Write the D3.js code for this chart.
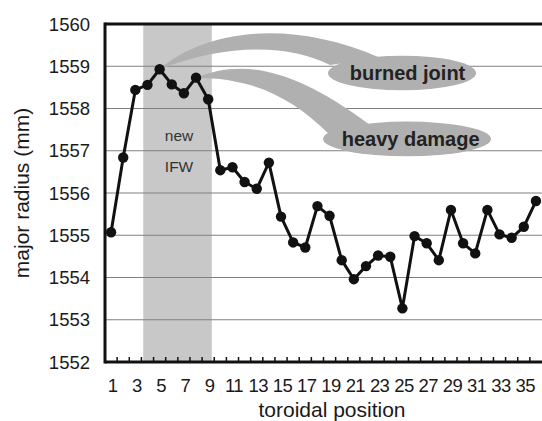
<!DOCTYPE html>
<html>
<head>
<meta charset="utf-8">
<script src="https://cdn.jsdelivr.net/npm/d3@7"></script>
<style>
  body { margin: 0; background: #fff; }
  text { font-family: "Liberation Sans", Arial, sans-serif; }
</style>
</head>
<body>
<div id="chart"></div>
<script>
// toroidal positions and measured major radius (mm)
const positions = d3.range(1, 37);
const radius = [
  1555.07, 1556.84, 1558.44, 1558.56, 1558.93, 1558.57, 1558.36, 1558.73, 1558.22,
  1556.54, 1556.61, 1556.26, 1556.10, 1556.72, 1555.44, 1554.83, 1554.71, 1555.69,
  1555.46, 1554.41, 1553.96, 1554.27, 1554.52, 1554.49, 1553.27, 1554.98, 1554.81,
  1554.41, 1555.60, 1554.81, 1554.57, 1555.60, 1555.02, 1554.94, 1555.20, 1555.81
];
const yTicks = [1552, 1553, 1554, 1555, 1556, 1557, 1558, 1559, 1560];
const xTickLabels = d3.range(1, 36, 2);
// shaded range "new IFW" (positions 4..9)
const ifwRange = [4, 9];

const width = 542, height = 421;
const margin = { top: 24, right: 0, bottom: 59, left: 105 };

const svg = d3.select("#chart").append("svg")
  .attr("width", width)
  .attr("height", height);

const x = d3.scaleLinear()
  .domain([0.5, 36.5])
  .range([margin.left, width - margin.right]);

const y = d3.scaleLinear()
  .domain([1552, 1560])
  .range([height - margin.bottom, margin.top]);

// shaded band
svg.append("rect")
  .attr("x", x(ifwRange[0] - 0.35))
  .attr("width", x(ifwRange[1] + 0.3) - x(ifwRange[0] - 0.35))
  .attr("y", y(1560))
  .attr("height", y(1552) - y(1560))
  .attr("fill", "#c8c8c8");

// grid lines
svg.append("g")
  .selectAll("line")
  .data(yTicks.filter(d => d > 1552 && d < 1560))
  .join("line")
  .attr("x1", x(0.5)).attr("x2", x(36.5))
  .attr("y1", d => y(d)).attr("y2", d => y(d))
  .attr("stroke", "#808080")
  .attr("stroke-width", 1.2);

// top frame line
svg.append("line")
  .attr("x1", x(0.5)).attr("x2", x(36.5))
  .attr("y1", y(1560)).attr("y2", y(1560))
  .attr("stroke", "#111").attr("stroke-width", 3);

svg.append("text").attr("x", x(6.6)).attr("y", y(1557.22))
  .attr("text-anchor", "middle").attr("font-size", 15.5).attr("fill", "#333").text("new");
svg.append("text").attr("x", x(6.6)).attr("y", y(1556.49))
  .attr("text-anchor", "middle").attr("font-size", 15.5).attr("fill", "#333").text("IFW");

// annotation callouts (in data units)
const callouts = [
  {
    label: "burned joint", tip: 5, size: 20, dx: 0.45,
    center: [24.97, 1558.84], rx: 6.1, ry: 0.41,
    upper: [[8.74, 1559.86], [15.74, 1560.14], [23.15, 1559.20]],
    lower: [[19.04, 1559.03], [15.74, 1559.50], [10.80, 1559.57]]
  },
  {
    label: "heavy damage", tip: 8, size: 20, dx: 0.3,
    center: [25.38, 1557.28], rx: 6.92, ry: 0.41,
    upper: [[11.62, 1559.15], [15.74, 1559.03], [22.33, 1557.61]],
    lower: [[19.04, 1557.37], [15.74, 1558.32], [12.44, 1558.72]]
  }
];

const P = p => `${x(p[0])},${y(p[1])}`;
const gc = svg.append("g");
callouts.forEach(c => {
  const tip = [c.tip, radius[c.tip - 1]];
  gc.append("path")
    .attr("d", `M${P(tip)} C${P(c.upper[0])} ${P(c.upper[1])} ${P(c.upper[2])}` +
      ` L${P(c.lower[0])} C${P(c.lower[1])} ${P(c.lower[2])} ${P(tip)} Z`)
    .attr("fill", "#b0b0b0");
  gc.append("ellipse")
    .attr("cx", x(c.center[0])).attr("cy", y(c.center[1]))
    .attr("rx", x(c.center[0] + c.rx) - x(c.center[0]))
    .attr("ry", y(c.center[1] - c.ry) - y(c.center[1]))
    .attr("fill", "#b0b0b0");
  gc.append("text")
    .attr("x", x(c.center[0] + c.dx)).attr("y", y(c.center[1]) + 7)
    .attr("text-anchor", "middle")
    .attr("font-size", c.size).attr("font-weight", "bold")
    .attr("fill", "#222")
    .text(c.label);
});

// data line
const line = d3.line()
  .x((d, i) => x(positions[i]))
  .y(d => y(d));

svg.append("path")
  .datum(radius)
  .attr("fill", "none")
  .attr("stroke", "#111")
  .attr("stroke-width", 3)
  .attr("stroke-linejoin", "round")
  .attr("d", line);

svg.append("g")
  .selectAll("circle")
  .data(radius)
  .join("circle")
  .attr("cx", (d, i) => x(positions[i]))
  .attr("cy", d => y(d))
  .attr("r", 5.2)
  .attr("fill", "#111");

// axes
svg.append("line")
  .attr("x1", x(0.5)).attr("x2", x(36.5))
  .attr("y1", y(1552)).attr("y2", y(1552))
  .attr("stroke", "#111").attr("stroke-width", 3);
svg.append("line")
  .attr("x1", x(0.5)).attr("x2", x(0.5))
  .attr("y1", y(1560) - 1.5).attr("y2", y(1552) + 1.5)
  .attr("stroke", "#111").attr("stroke-width", 3);

// x tick marks between categories
svg.append("g")
  .selectAll("line")
  .data(d3.range(1.5, 36.5, 1))
  .join("line")
  .attr("x1", d => x(d)).attr("x2", d => x(d))
  .attr("y1", y(1552)).attr("y2", y(1552) - 5)
  .attr("stroke", "#111").attr("stroke-width", 1.5);

svg.append("g")
  .selectAll("text")
  .data(yTicks)
  .join("text")
  .attr("x", margin.left - 15)
  .attr("y", d => y(d) + 6.5)
  .attr("text-anchor", "end")
  .attr("font-size", 18.5)
  .attr("fill", "#1a1a1a")
  .text(d => d);

svg.append("g")
  .selectAll("text")
  .data(xTickLabels)
  .join("text")
  .attr("x", d => x(d) + 1.5)
  .attr("y", y(1552) + 30)
  .attr("text-anchor", "middle")
  .attr("font-size", 18.5)
  .attr("letter-spacing", -0.6)
  .attr("fill", "#1a1a1a")
  .text(d => d);

svg.append("text")
  .attr("x", 332)
  .attr("y", height - 4)
  .attr("text-anchor", "middle")
  .attr("font-size", 21)
  .attr("fill", "#1a1a1a")
  .text("toroidal position");

svg.append("text")
  .attr("transform", `translate(29,${(y(1552) + y(1560)) / 2}) rotate(-90)`)
  .attr("text-anchor", "middle")
  .attr("font-size", 21)
  .attr("fill", "#1a1a1a")
  .text("major radius (mm)");
</script>
</body>
</html>
